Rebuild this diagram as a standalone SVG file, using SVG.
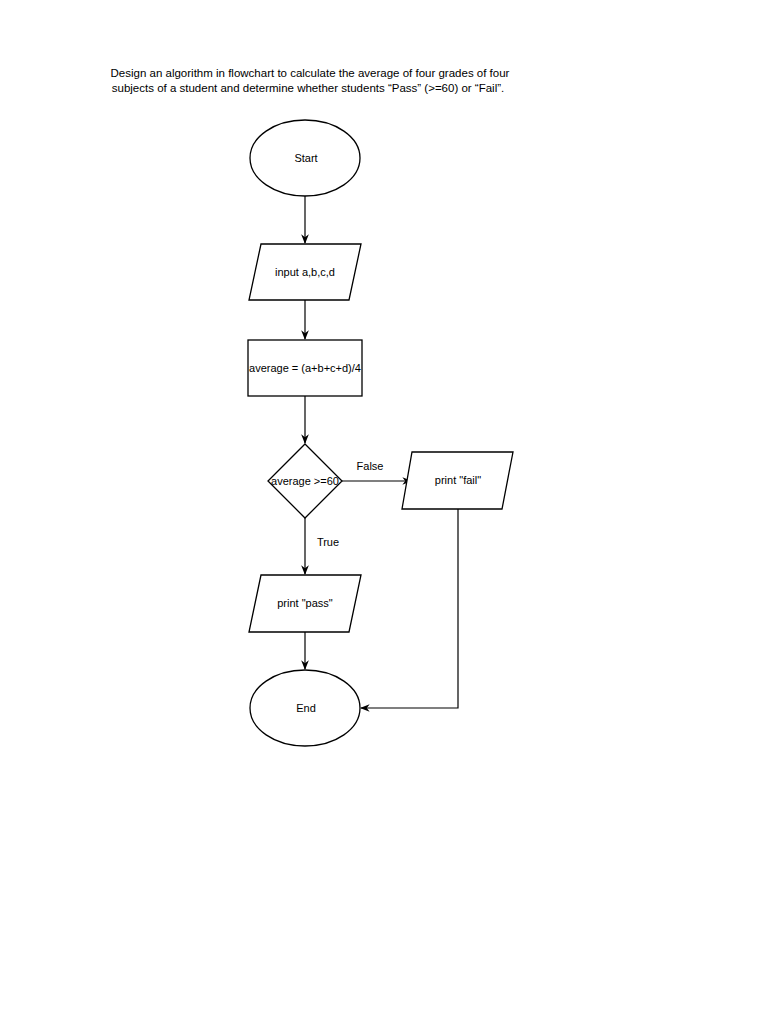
<svg xmlns="http://www.w3.org/2000/svg" width="768" height="1024" viewBox="0 0 768 1024">
<style>
.s{fill:#fff;stroke:#000;stroke-width:1.3}
.t{font-family:"Liberation Sans",Arial,sans-serif;font-size:11px;fill:#000;text-anchor:middle}
.c{fill:none;stroke:#000;stroke-width:1.2}
</style>
<defs><marker id="a" viewBox="0 0 10 10" refX="9" refY="5" markerWidth="8" markerHeight="8" orient="auto"><path d="M0,1 L10,5 L0,9 L3,5 Z" fill="#000"/></marker></defs>
<rect width="768" height="1024" fill="#fff"/>
<text class="t" x="310" y="77" style="font-size:11.5px">Design an algorithm in flowchart to calculate the average of four grades of four</text>
<text class="t" x="308" y="92" style="font-size:11.5px">subjects of a student and determine whether students “Pass” (&gt;=60) or “Fail”.</text>
<g id="connectors">
<path class="c" d="M305,196 V243" marker-end="url(#a)"/>
<path class="c" d="M305,300 V339" marker-end="url(#a)"/>
<path class="c" d="M305,396 V443" marker-end="url(#a)"/>
<path class="c" d="M342,481 H411" marker-end="url(#a)"/>
<path class="c" d="M305,518 V574" marker-end="url(#a)"/>
<path class="c" d="M305,632 V669" marker-end="url(#a)"/>
<path class="c" d="M458,509 V708 H361" marker-end="url(#a)"/>
<text class="t" x="370" y="470">False</text>
<text class="t" x="328" y="546">True</text>
</g>
<g id="start"><ellipse class="s" cx="305" cy="158" rx="55" ry="38"/><text class="t" x="306" y="162">Start</text></g>
<g id="input"><path class="s" d="M261,244 H361 L349,300 H249 Z"/><text class="t" x="305" y="276">input a,b,c,d</text></g>
<g id="process"><rect class="s" x="248" y="340" width="114" height="56"/><text class="t" x="305" y="372">average = (a+b+c+d)/4</text></g>
<g id="decision"><path class="s" d="M305,444 L342,481 L305,518 L268,481 Z"/><text class="t" x="305" y="485">average &gt;=60</text></g>
<g id="fail"><path class="s" d="M412,452 H513 L502,509 H402 Z"/><text class="t" x="458" y="484">print "fail"</text></g>
<g id="pass"><path class="s" d="M261,575 H361 L349,632 H249 Z"/><text class="t" x="305" y="607">print "pass"</text></g>
<g id="end"><ellipse class="s" cx="305" cy="708" rx="55" ry="38"/><text class="t" x="306" y="712">End</text></g>
</svg>
